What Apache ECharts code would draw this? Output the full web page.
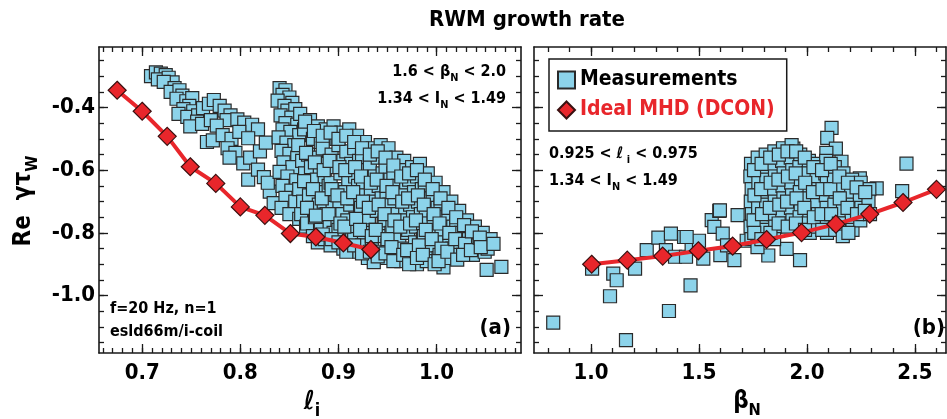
<!DOCTYPE html>
<html>
<head>
<meta charset="utf-8">
<script src="https://cdn.jsdelivr.net/npm/echarts@6/dist/echarts.min.js"></script>
<style>
html, body { margin: 0; padding: 0; background: #fff; }
#rwmChart { width: 947px; height: 419px; }
</style>
</head>
<body>
<div id="rwmChart"></div>
<script>
// panel (a): growth rate vs li
const liTicks = [0.7, 0.8, 0.9, 1.0]
const betaTicks = [1.0, 1.5, 2.0, 2.5]
const gammaTicks = [-1.0, -0.8, -0.6, -0.4]

const dconLi = [
    [0.6745, -0.345], [0.700, -0.412], [0.7255, -0.492], [0.749, -0.589], [0.775, -0.642],
    [0.800, -0.717], [0.825, -0.744], [0.851, -0.802], [0.877, -0.813], [0.905, -0.832], [0.933, -0.853]
]

const measLi = [
    // upper-left branch
    [0.709, -0.300], [0.714, -0.288], [0.719, -0.292], [0.724, -0.297], [0.716, -0.310], [0.727, -0.305],
    [0.731, -0.320], [0.722, -0.318], [0.733, -0.338], [0.729, -0.350], [0.738, -0.345], [0.741, -0.362],
    [0.735, -0.372], [0.745, -0.380], [0.751, -0.370], [0.748, -0.395], [0.742, -0.405], [0.737, -0.420],
    [0.752, -0.412], [0.746, -0.430], [0.757, -0.425], [0.762, -0.402], [0.768, -0.388], [0.773, -0.376],
    [0.779, -0.395], [0.784, -0.410], [0.790, -0.425], [0.786, -0.440], [0.756, -0.445], [0.749, -0.460],
    [0.761, -0.452], [0.770, -0.440], [0.776, -0.458], [0.797, -0.438], [0.804, -0.448], [0.812, -0.455],
    [0.818, -0.470], [0.766, -0.510], [0.772, -0.505], [0.782, -0.488], [0.791, -0.500], [0.799, -0.478],
    [0.808, -0.498], [0.787, -0.530], [0.795, -0.545], [0.789, -0.560], [0.803, -0.578], [0.810, -0.560],
    [0.820, -0.540], [0.826, -0.512], [0.808, -0.630], [0.818, -0.598], [0.824, -0.622], [0.830, -0.668],
    [0.834, -0.705], [0.828, -0.640],
    // narrow lobe near li = 0.85
    [0.840, -0.338], [0.846, -0.345], [0.843, -0.360], [0.850, -0.368], [0.838, -0.378], [0.853, -0.385],
    [0.845, -0.395], [0.848, -0.410], [0.856, -0.405], [0.841, -0.425], [0.852, -0.432], [0.846, -0.450],
    [0.858, -0.455], [0.843, -0.470], [0.851, -0.478], [0.860, -0.488], [0.839, -0.495], [0.847, -0.512],
    [0.855, -0.520], [0.842, -0.538], [0.850, -0.548], [0.858, -0.560], [0.844, -0.575], [0.853, -0.590],
    [0.840, -0.605], [0.848, -0.620], [0.857, -0.632], [0.843, -0.650], [0.852, -0.665], [0.846, -0.688],
    [0.856, -0.700], [0.842, -0.720], [0.850, -0.740], [0.860, -0.755],
    // main cloud
    [0.861, -0.42], [0.865, -0.47], [0.859, -0.52], [0.863, -0.57], [0.866, -0.61], [0.860, -0.66], [0.864, -0.70], [0.862, -0.74], [0.867, -0.78],
    [0.871, -0.44], [0.874, -0.50], [0.869, -0.55], [0.872, -0.59], [0.875, -0.64], [0.870, -0.68], [0.873, -0.72], [0.868, -0.77], [0.874, -0.81],
    [0.879, -0.46], [0.882, -0.51], [0.877, -0.56], [0.881, -0.60], [0.878, -0.63], [0.883, -0.67], [0.880, -0.71], [0.876, -0.75], [0.882, -0.79], [0.879, -0.83],
    [0.887, -0.47], [0.884, -0.53], [0.889, -0.58], [0.886, -0.62], [0.890, -0.65], [0.885, -0.70], [0.888, -0.74], [0.891, -0.78], [0.886, -0.82],
    [0.895, -0.46], [0.898, -0.50], [0.893, -0.55], [0.896, -0.59], [0.892, -0.64], [0.897, -0.68], [0.894, -0.72], [0.899, -0.76], [0.895, -0.80], [0.892, -0.84],
    [0.903, -0.48], [0.900, -0.52], [0.905, -0.57], [0.902, -0.61], [0.906, -0.66], [0.901, -0.70], [0.904, -0.74], [0.900, -0.79], [0.905, -0.85],
    [0.911, -0.47], [0.908, -0.54], [0.913, -0.58], [0.910, -0.63], [0.907, -0.67], [0.912, -0.71], [0.909, -0.76], [0.914, -0.81], [0.910, -0.84],
    [0.919, -0.49], [0.916, -0.53], [0.921, -0.57], [0.917, -0.62], [0.920, -0.65], [0.915, -0.69], [0.922, -0.73], [0.918, -0.78], [0.916, -0.82], [0.921, -0.86],
    [0.927, -0.51], [0.924, -0.56], [0.929, -0.60], [0.925, -0.64], [0.928, -0.68], [0.923, -0.72], [0.930, -0.77], [0.926, -0.80], [0.924, -0.84],
    [0.935, -0.53], [0.932, -0.58], [0.937, -0.62], [0.933, -0.66], [0.936, -0.70], [0.931, -0.75], [0.938, -0.79], [0.934, -0.83], [0.932, -0.88],
    [0.943, -0.52], [0.940, -0.56], [0.945, -0.61], [0.941, -0.65], [0.944, -0.69], [0.939, -0.73], [0.946, -0.77], [0.942, -0.81], [0.940, -0.86],
    [0.951, -0.53], [0.948, -0.59], [0.953, -0.63], [0.949, -0.67], [0.952, -0.71], [0.947, -0.76], [0.954, -0.80], [0.950, -0.84], [0.948, -0.88],
    [0.959, -0.56], [0.956, -0.61], [0.961, -0.65], [0.957, -0.69], [0.960, -0.74], [0.955, -0.78], [0.962, -0.82], [0.958, -0.87],
    [0.967, -0.57], [0.964, -0.60], [0.969, -0.64], [0.965, -0.68], [0.968, -0.72], [0.963, -0.76], [0.970, -0.80], [0.966, -0.85], [0.964, -0.89],
    [0.975, -0.59], [0.972, -0.63], [0.977, -0.67], [0.973, -0.71], [0.976, -0.75], [0.971, -0.79], [0.978, -0.83], [0.974, -0.88],
    [0.983, -0.58], [0.980, -0.62], [0.985, -0.66], [0.981, -0.70], [0.984, -0.74], [0.979, -0.78], [0.986, -0.82], [0.982, -0.86], [0.980, -0.90],
    [0.991, -0.61], [0.988, -0.65], [0.993, -0.69], [0.989, -0.73], [0.992, -0.77], [0.987, -0.81], [0.994, -0.85], [0.990, -0.89],
    [0.999, -0.64], [0.996, -0.68], [1.001, -0.72], [0.997, -0.76], [1.000, -0.80], [0.995, -0.84], [1.002, -0.88],
    [1.007, -0.67], [1.004, -0.71], [1.009, -0.75], [1.005, -0.79], [1.008, -0.83], [1.003, -0.87], [1.007, -0.91],
    [1.015, -0.70], [1.012, -0.74], [1.017, -0.78], [1.013, -0.81], [1.016, -0.85], [1.011, -0.88],
    [1.023, -0.73], [1.020, -0.77], [1.025, -0.80], [1.021, -0.84], [1.024, -0.87],
    [1.031, -0.76], [1.028, -0.79], [1.033, -0.82], [1.029, -0.85],
    [1.039, -0.78], [1.036, -0.81], [1.041, -0.84], [1.037, -0.87],
    [1.047, -0.80], [1.044, -0.83], [1.049, -0.86],
    [1.055, -0.82], [1.052, -0.85],
    [1.051, -0.918], [1.066, -0.908], [0.930, -0.880], [0.936, -0.893],
    // in-between shots of the main cloud
    [0.866, -0.445], [0.867, -0.545], [0.865, -0.635], [0.868, -0.720],
    [0.875, -0.475], [0.876, -0.575], [0.874, -0.660], [0.877, -0.745],
    [0.884, -0.490], [0.885, -0.600], [0.883, -0.690], [0.884, -0.805],
    [0.892, -0.480], [0.891, -0.570], [0.893, -0.660], [0.890, -0.740], [0.893, -0.820],
    [0.900, -0.500], [0.901, -0.590], [0.899, -0.680], [0.902, -0.770], [0.900, -0.830],
    [0.908, -0.490], [0.907, -0.600], [0.909, -0.690], [0.906, -0.780], [0.908, -0.860],
    [0.916, -0.510], [0.917, -0.590], [0.915, -0.670], [0.918, -0.755], [0.916, -0.840],
    [0.924, -0.530], [0.923, -0.620], [0.925, -0.700], [0.922, -0.790], [0.924, -0.865],
    [0.932, -0.550], [0.933, -0.640], [0.931, -0.720], [0.934, -0.810], [0.932, -0.860],
    [0.940, -0.540], [0.939, -0.630], [0.941, -0.710], [0.938, -0.790], [0.940, -0.875],
    [0.948, -0.560], [0.949, -0.650], [0.947, -0.740], [0.950, -0.820], [0.948, -0.865],
    [0.956, -0.585], [0.955, -0.670], [0.957, -0.760], [0.954, -0.845], [0.956, -0.890],
    [0.964, -0.620], [0.965, -0.700], [0.963, -0.780], [0.966, -0.870],
    [0.972, -0.610], [0.971, -0.690], [0.973, -0.770], [0.970, -0.855], [0.972, -0.900],
    [0.980, -0.600], [0.981, -0.680], [0.979, -0.760], [0.982, -0.840], [0.980, -0.880],
    [0.988, -0.630], [0.987, -0.710], [0.989, -0.790], [0.986, -0.870],
    [0.996, -0.660], [0.997, -0.740], [0.995, -0.820], [0.998, -0.900],
    [1.004, -0.690], [1.003, -0.770], [1.005, -0.850], [1.002, -0.890],
    [1.012, -0.720], [1.013, -0.800], [1.011, -0.860],
    [1.020, -0.750], [1.019, -0.820], [1.021, -0.885],
    [1.028, -0.775], [1.029, -0.835], [1.027, -0.870],
    [1.036, -0.795], [1.035, -0.855],
    [1.044, -0.815], [1.045, -0.845],
    [1.058, -0.835]
]

// panel (b): growth rate vs betaN
const dconBeta = [
    [1.003, -0.900], [1.168, -0.887], [1.332, -0.874], [1.497, -0.857], [1.656, -0.842], [1.813, -0.821],
    [1.975, -0.799], [2.134, -0.772], [2.291, -0.740], [2.445, -0.703], [2.600, -0.661]
]

const measBeta = [
    [0.825, -1.086], [1.162, -1.142], [1.361, -1.049], [1.088, -1.002], [1.461, -0.967], [1.103, -0.930],
    [1.119, -0.951], [1.204, -0.914], [1.005, -0.914], [1.258, -0.855], [1.312, -0.815], [1.370, -0.802],
    [1.431, -0.813], [1.347, -0.855], [1.389, -0.876], [1.440, -0.876], [1.466, -0.842], [1.520, -0.882],
    [1.500, -0.825], [1.559, -0.759], [1.594, -0.730], [1.571, -0.781], [1.610, -0.802], [1.679, -0.743],
    [1.599, -0.871], [1.664, -0.887], [1.630, -0.840], [1.721, -0.825], [1.443, -0.813], [1.597, -0.728],
    [2.461, -0.579], [2.441, -0.667], [2.114, -0.465], [2.094, -0.497], [2.134, -0.531], [2.090, -0.545],
    [2.160, -0.573], [1.937, -0.531], [1.968, -0.887], [1.906, -0.851], [1.821, -0.872], [2.323, -0.658],
    [2.245, -0.626],
    [1.741, -0.58], [1.738, -0.62], [1.744, -0.66], [1.740, -0.70], [1.745, -0.74], [1.739, -0.78], [1.743, -0.82],
    [1.772, -0.56], [1.768, -0.60], [1.775, -0.64], [1.770, -0.68], [1.774, -0.72], [1.769, -0.76], [1.776, -0.80], [1.771, -0.845],
    [1.809, -0.55], [1.805, -0.59], [1.812, -0.63], [1.807, -0.67], [1.811, -0.71], [1.806, -0.75], [1.810, -0.79],
    [1.849, -0.54], [1.845, -0.58], [1.852, -0.62], [1.847, -0.66], [1.851, -0.70], [1.846, -0.74], [1.853, -0.78], [1.848, -0.82],
    [1.889, -0.53], [1.885, -0.57], [1.892, -0.61], [1.887, -0.65], [1.891, -0.69], [1.886, -0.73], [1.893, -0.77],
    [1.929, -0.52], [1.925, -0.56], [1.932, -0.60], [1.927, -0.64], [1.931, -0.68], [1.926, -0.72], [1.933, -0.76],
    [1.969, -0.55], [1.965, -0.59], [1.972, -0.63], [1.967, -0.67], [1.971, -0.71], [1.966, -0.75], [1.973, -0.78],
    [2.009, -0.57], [2.005, -0.61], [2.012, -0.65], [2.007, -0.69], [2.011, -0.73], [2.006, -0.77], [2.013, -0.80],
    [2.049, -0.58], [2.045, -0.62], [2.052, -0.66], [2.047, -0.70], [2.051, -0.74], [2.046, -0.78],
    [2.089, -0.57], [2.085, -0.61], [2.092, -0.64], [2.087, -0.68], [2.091, -0.72], [2.086, -0.76], [2.093, -0.80],
    [2.129, -0.59], [2.125, -0.63], [2.132, -0.67], [2.127, -0.71], [2.131, -0.75], [2.126, -0.79],
    [2.169, -0.61], [2.165, -0.65], [2.172, -0.69], [2.167, -0.73], [2.171, -0.77], [2.166, -0.81],
    [2.209, -0.63], [2.205, -0.67], [2.212, -0.71], [2.207, -0.75], [2.211, -0.79],
    [2.249, -0.64], [2.245, -0.68], [2.252, -0.72], [2.247, -0.76],
    [2.289, -0.66], [2.285, -0.70], [2.292, -0.74],
    [1.755, -0.60], [1.757, -0.68], [1.753, -0.76], [1.756, -0.80],
    [1.790, -0.58], [1.788, -0.66], [1.792, -0.74], [1.789, -0.82],
    [1.830, -0.56], [1.832, -0.64], [1.828, -0.72], [1.831, -0.80],
    [1.870, -0.55], [1.868, -0.63], [1.872, -0.71], [1.869, -0.77],
    [1.910, -0.54], [1.912, -0.62], [1.908, -0.70], [1.911, -0.78],
    [1.950, -0.54], [1.948, -0.61], [1.952, -0.69], [1.949, -0.77],
    [1.990, -0.56], [1.992, -0.64], [1.988, -0.72], [1.991, -0.79],
    [2.030, -0.59], [2.028, -0.67], [2.032, -0.75],
    [2.070, -0.60], [2.072, -0.66], [2.068, -0.74], [2.071, -0.79],
    [2.110, -0.58], [2.108, -0.66], [2.112, -0.74],
    [2.150, -0.62], [2.152, -0.69], [2.148, -0.77],
    [2.190, -0.64], [2.188, -0.72], [2.192, -0.80],
    [2.230, -0.655], [2.232, -0.74],
    [2.270, -0.67], [2.268, -0.73]
]

const FONT = "'Liberation Sans Narrow', 'DejaVu Sans Condensed', sans-serif"
const INK = '#1a1a1a'
const SKY = '#8cd3ea'
const RED = '#e8262b'

function steps(a, b, d) {
    let out = []
    for (let v = a; v <= b + d / 2; v += d) out.push(Math.round(v * 1000) / 1000)
    return out
}

const liMinor = steps(0.66, 1.08, 0.01)
const betaMinor = steps(0.8, 2.6, 0.1)
const gammaMinor = steps(-1.15, -0.25, 0.05)

const LI_MIN = 0.656, LI_MAX = 1.086
const BETA_MIN = 0.736, BETA_MAX = 2.644
const G_MIN = -1.183, G_MAX = -0.207

function axis(grid, pos, min, max, ticks, len, labels, line) {
    return {
        type: 'value', gridIndex: grid, position: pos, min: min, max: max,
        axisLine: { show: line, onZero: false, lineStyle: { color: INK, width: 1.6 } },
        axisTick: { show: true, inside: true, length: len, customValues: ticks, lineStyle: { color: INK, width: 1.3 } },
        axisLabel: labels ? {
            show: true, customValues: labels, margin: pos === 'bottom' ? 9 : 4,
            formatter: v => v.toFixed(1),
            color: '#000', fontSize: 22, fontWeight: 'bold', fontFamily: FONT
        } : { show: false },
        splitLine: { show: false }
    }
}

function note(x, y, text, size, align, extra) {
    return Object.assign({
        type: 'text', x: x, y: y,
        style: {
            text: text, fill: '#000', fontSize: size, fontWeight: 'bold', fontFamily: FONT,
            align: align, verticalAlign: 'middle', lineHeight: size * 1.4,
            rich: {
                s: { fontSize: size * 0.68, fontWeight: 'bold', fontFamily: FONT, fill: '#000',
                     verticalAlign: 'bottom', lineHeight: size * 0.7 }
            }
        }
    }, extra || {})
}

const gridA = { left: 99, top: 47, width: 422, height: 306 }
const gridB = { left: 534, top: 47, width: 412, height: 306 }

echarts.init(document.getElementById('rwmChart')).setOption({
    animation: false,
    backgroundColor: '#fff',
    grid: [gridA, gridB, gridA, gridB],
    xAxis: [
        axis(0, 'bottom', LI_MIN, LI_MAX, liTicks, 9, liTicks, true),
        axis(0, 'top', LI_MIN, LI_MAX, liTicks, 9, null, true),
        axis(1, 'bottom', BETA_MIN, BETA_MAX, betaTicks, 9, betaTicks, true),
        axis(1, 'top', BETA_MIN, BETA_MAX, betaTicks, 9, null, true),
        axis(2, 'bottom', LI_MIN, LI_MAX, liMinor, 5, null, false),
        axis(2, 'top', LI_MIN, LI_MAX, liMinor, 5, null, false),
        axis(3, 'bottom', BETA_MIN, BETA_MAX, betaMinor, 5, null, false),
        axis(3, 'top', BETA_MIN, BETA_MAX, betaMinor, 5, null, false)
    ],
    yAxis: [
        axis(0, 'left', G_MIN, G_MAX, gammaTicks, 9, gammaTicks, true),
        axis(0, 'right', G_MIN, G_MAX, gammaTicks, 9, null, true),
        axis(1, 'left', G_MIN, G_MAX, gammaTicks, 9, null, true),
        axis(1, 'right', G_MIN, G_MAX, gammaTicks, 9, null, true),
        axis(2, 'left', G_MIN, G_MAX, gammaMinor, 5, null, false),
        axis(2, 'right', G_MIN, G_MAX, gammaMinor, 5, null, false),
        axis(3, 'left', G_MIN, G_MAX, gammaMinor, 5, null, false),
        axis(3, 'right', G_MIN, G_MAX, gammaMinor, 5, null, false)
    ],
    legend: {
        left: 549, top: 59, orient: 'vertical',
        padding: [6, 12, 6, 8], itemGap: 0, itemWidth: 17, itemHeight: 17,
        borderColor: INK, borderWidth: 1.5, borderRadius: 0,
        textStyle: { fontSize: 21, fontWeight: 'bold', fontFamily: FONT, color: '#000', lineHeight: 30 },
        data: [
            { name: 'Measurements', icon: 'rect' },
            { name: 'Ideal MHD (DCON)', icon: 'diamond', textStyle: { color: RED } }
        ]
    },
    series: [
        {
            name: 'Measurements', type: 'scatter', xAxisIndex: 0, yAxisIndex: 0,
            symbol: 'rect', symbolSize: 13, data: measLi,
            itemStyle: { color: SKY, borderColor: '#2a2a2a', borderWidth: 1.2, opacity: 1 }
        },
        {
            name: 'Ideal MHD (DCON)', type: 'line', xAxisIndex: 0, yAxisIndex: 0,
            symbol: 'diamond', symbolSize: 18, data: dconLi, z: 5,
            lineStyle: { color: RED, width: 4 },
            itemStyle: { color: RED, borderColor: '#3a1010', borderWidth: 1.2 }
        },
        {
            name: 'Measurements', type: 'scatter', xAxisIndex: 2, yAxisIndex: 2,
            symbol: 'rect', symbolSize: 13, data: measBeta,
            itemStyle: { color: SKY, borderColor: '#2a2a2a', borderWidth: 1.2, opacity: 1 }
        },
        {
            name: 'Ideal MHD (DCON)', type: 'line', xAxisIndex: 2, yAxisIndex: 2,
            symbol: 'diamond', symbolSize: 18, data: dconBeta, z: 5,
            lineStyle: { color: RED, width: 4 },
            itemStyle: { color: RED, borderColor: '#3a1010', borderWidth: 1.2 }
        }
    ],
    graphic: [
        note(527, 20, 'RWM growth rate', 22, 'center'),
        note(24, 201, 'Re  γτ{s|W}', 24, 'center', { rotation: Math.PI / 2 }),
        note(312, 402, 'ℓ{s|i}', 26, 'center'),
        note(747, 402, 'β{s|N}', 24, 'center'),
        note(506, 72, '1.6 < β{s|N} < 2.0', 16, 'right'),
        note(506, 99, '1.34 < I{s|N} < 1.49', 16, 'right'),
        note(110, 309, 'f=20 Hz, n=1', 16, 'left'),
        note(110, 332, 'esld66m/i-coil', 16, 'left'),
        note(511, 328, '(a)', 22, 'right'),
        note(549, 154, '0.925 < ℓ{s| i} < 0.975', 16, 'left'),
        note(549, 181, '1.34 < I{s|N} < 1.49', 16, 'left'),
        note(945, 328, '(b)', 22, 'right')
    ]
})
</script>
</body>
</html>
